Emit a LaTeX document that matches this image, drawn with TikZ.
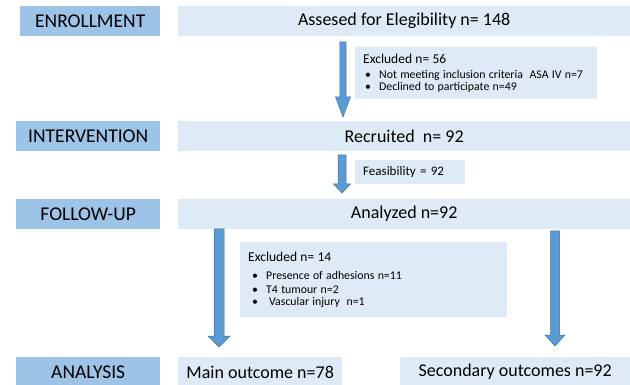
\documentclass[tikz,border=0pt]{standalone}
\usepackage{fontspec}
\setmainfont{Carlito}
\usetikzlibrary{calc}
\definecolor{catfill}{HTML}{9DC3E6}
\definecolor{boxfill}{HTML}{DEEBF7}
\definecolor{arrfill}{HTML}{5B9BD5}
\definecolor{arrline}{HTML}{41719C}
\tikzset{
  catbox/.style={fill=catfill, draw=none, anchor=north west, inner sep=0pt,
    minimum height=30pt, font=\fontsize{19.5}{22}\selectfont},
  mainbox/.style={fill=boxfill, draw=none, anchor=north west, inner sep=0pt,
    minimum height=30pt, font=\fontsize{18}{20}\selectfont},
  notebox/.style={fill=boxfill, draw=none, anchor=north west, inner sep=0pt, align=left},
  blockarr/.style={fill=arrfill, draw=arrline, line width=0.5pt, line join=miter}
}
\newcommand{\blockarrow}[5]{%
  \filldraw[blockarr] let \p1=(#1), \p2=(#2) in
    (\x1-#3pt,\y1) -- (\x1+#3pt,\y1) -- (\x1+#3pt,\y2+#5pt) -- (\x1+#4pt,\y2+#5pt)
    -- (\x2,\y2) -- (\x1-#4pt,\y2+#5pt) -- (\x1-#3pt,\y2+#5pt) -- cycle;}
\newcommand{\bul}{\makebox[14pt][l]{\textbullet}}
\begin{document}
\begin{tikzpicture}[x=1pt,y=-1pt]
\useasboundingbox (0,0) rectangle (630,385);
% category boxes
\node[catbox, minimum width=140pt] (enr) at (20,6) {ENROLLMENT};
\node[catbox, minimum width=144pt] (int) at (16,121) {INTERVENTION};
\node[catbox, minimum width=144pt] (fol) at (16,199) {FOLLOW-UP};
\node[catbox, minimum width=144pt] (ana) at (16,357) {ANALYSIS};
% main boxes
\node[mainbox, minimum width=452pt] (assess) at (178,6) {Assesed for Elegibility n= 148};
\node[mainbox, minimum width=452pt] (recr) at (178,121) {Recruited\ \ n= 92};
\node[mainbox, minimum width=452pt] (analy) at (178,199) {Analyzed n=92};
\node[mainbox, minimum width=164pt] (mainout) at (178,357) {Main outcome n=78};
\node[mainbox, minimum width=230pt] (secout) at (400,357) {Secondary outcomes n=92};
% note boxes
\node[notebox, minimum width=236pt, minimum height=52pt, text width=226pt, inner xsep=8pt] (exc1) at (355,47)
  {\fontsize{13.5}{15}\selectfont Excluded n= 56\\[1pt]
   \fontsize{11.8}{14}\selectfont\hspace*{2pt}\bul Not meeting inclusion criteria\ \ ASA IV n=7\\
   \hspace*{2pt}\bul Declined to participate n=49};
\node[notebox, minimum width=102pt, minimum height=24pt, text width=94pt, inner xsep=8pt,
  font=\fontsize{13}{14}\selectfont] (feas) at (355,160) {Feasibility = 92};
\node[notebox, minimum width=263pt, minimum height=75pt, text width=251pt, inner xsep=8pt] (exc2) at (240,242)
  {\fontsize{13.5}{15}\selectfont Excluded n= 14\\[4pt]
   \fontsize{11.8}{14}\selectfont\hspace*{4pt}\bul Presence of adhesions n=11\\
   \hspace*{4pt}\bul T4\ tumour n=2\\
   \hspace*{4pt}\bul\hspace*{3pt}Vascular injury\ \ n=1};
% arrows
\coordinate (a1s) at (343,42);   \coordinate (a1e) at (343,117);
\coordinate (a2s) at (342,155);  \coordinate (a2e) at (342,193);
\coordinate (a3s) at (219,229);  \coordinate (a3e) at (219,347);
\coordinate (a4s) at (555,231);  \coordinate (a4e) at (555,346);
\blockarrow{a1s}{a1e}{3.2}{7.5}{20}
\blockarrow{a2s}{a2e}{4}{8.5}{9}
\blockarrow{a3s}{a3e}{5}{11}{11}
\blockarrow{a4s}{a4e}{4.5}{10}{11}
\end{tikzpicture}
\end{document}
